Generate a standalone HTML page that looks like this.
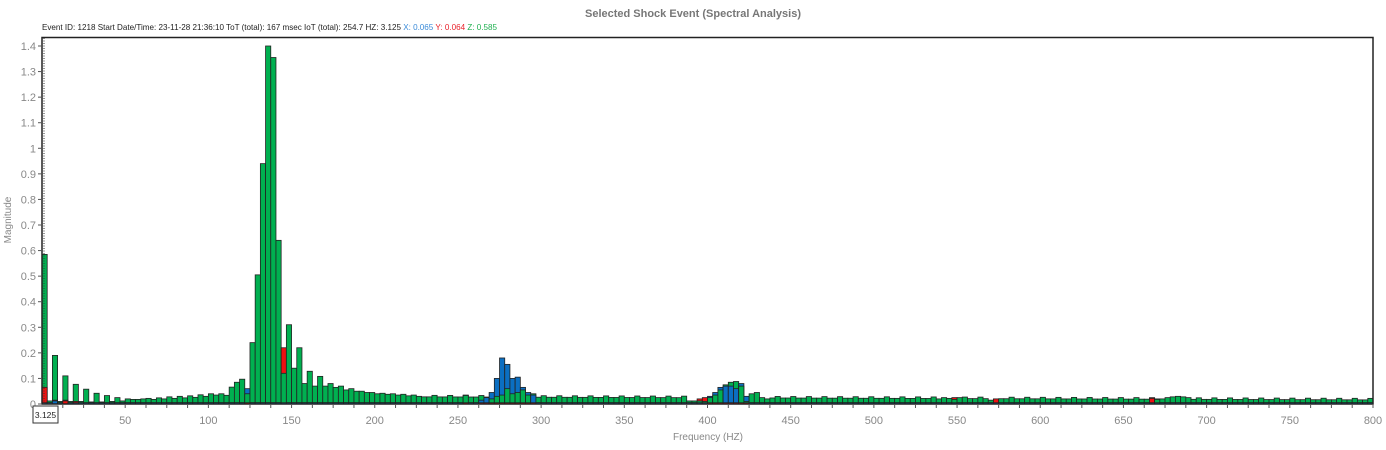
<!DOCTYPE html>
<html><head><meta charset="utf-8"><style>
html,body{margin:0;padding:0;background:#fff;width:1386px;height:450px;overflow:hidden}
svg{display:block}
text{font-family:"Liberation Sans",sans-serif}
</style></head><body>
<svg id="s" width="1386" height="450" xmlns="http://www.w3.org/2000/svg">
<text x="693" y="17" text-anchor="middle" font-size="11" font-weight="bold" fill="#777">Selected Shock Event (Spectral Analysis)</text>
<text x="42" y="30" font-size="8.4" fill="#222" textLength="455" lengthAdjust="spacingAndGlyphs">Event ID: 1218  Start Date/Time: 23-11-28 21:36:10  ToT (total): 167 msec  IoT (total): 254.7  HZ: 3.125  <tspan fill="#3a8ad8">X: 0.065</tspan>  <tspan fill="#e8202a">Y: 0.064</tspan>  <tspan fill="#20b050">Z: 0.585</tspan></text>
<g id="bands"></g>
<g id="bars"></g>
<rect x="42" y="37.5" width="1331" height="366.5" fill="none" stroke="#222" stroke-width="1.5"/>
<line x1="44" y1="38" x2="44" y2="404" stroke="#333" stroke-width="1" stroke-dasharray="1,1.5"/>
<g id="axes" font-size="11" fill="#888"></g>
<rect x="33" y="406" width="25" height="17" fill="#fff" stroke="#333" stroke-width="1"/>
<text x="45.5" y="418" text-anchor="middle" font-size="8.5" fill="#222">3.125</text>
<text x="708" y="440" text-anchor="middle" font-size="10" fill="#888">Frequency (HZ)</text>
<text transform="translate(11,220) rotate(-90)" text-anchor="middle" font-size="10" fill="#888">Magnitude</text>
</svg>
<script>
var NS="http://www.w3.org/2000/svg";
function el(p,t,a){var e=document.createElementNS(NS,t);for(var k in a)e.setAttribute(k,a[k]);p.appendChild(e);return e;}
var bands=document.getElementById('bands'),bars=document.getElementById('bars'),ax=document.getElementById('axes');
var top=38,bot=404,bh=(bot-top)/20;
for(var i=0;i<20;i+=2)el(bands,'rect',{x:42,y:top+i*bh,width:1331,height:bh,fill:'#e3e3e3'});
function Y(v){return 404-v*(358/1.4);}
for(var t=0;t<=14;t++){var yy=Y(t/10);el(ax,'line',{x1:38,y1:yy,x2:42,y2:yy,stroke:'#555'});
 var tx=el(ax,'text',{x:36,y:yy+4,'text-anchor':'end'});tx.textContent=(t==0?'0':(t/10).toString());}
var ppx=1331/800;
for(var f=12.5;f<=800;f+=12.5){var xx=42+f*ppx;el(ax,'line',{x1:xx,y1:404,x2:xx,y2:408,stroke:'#555'});}
for(var f=50;f<=800;f+=50){var xx=42+f*ppx;var tx=el(ax,'text',{x:xx,y:424,'text-anchor':'middle'});tx.textContent=f;}
var N=256,Z=[],R=[],B=[];
for(var i=0;i<N;i++){Z[i]=0.02;R[i]=0.005;B[i]=0.005;}
var z0=[0.585,0.012,0.19,0.01,0.11,0.01,0.077,0.01,0.058,0.008,0.042,0.008,0.033,0.01,0.025,0.012,0.02,0.018,0.018,0.02,0.022,0.018,0.024,0.02,0.028,0.022,0.03,0.024,0.032,0.026,0.036,0.03,0.04,0.035,0.04,0.034,0.057,0.058,0.062,0.066,0.085,0.097,0.04,0.24,0.505,0.94,1.40,1.355,0.64,0.12,0.31,0.14,0.22,0.08,0.128,0.07,0.108,0.07,0.08,0.065,0.07,0.055,0.06,0.05,0.05,0.045,0.045,0.04,0.042,0.038,0.04,0.035,0.038,0.032,0.035,0.03];
z0.splice(36,3);
for(var i=0;i<z0.length;i++)Z[i]=z0[i];
R[0]=0.065;R[2]=0.015;R[4]=0.012;R[6]=0.01;R[46]=0.22;B[39]=0.06;B[4]=0.015;B[2]=0.012;
for(var i=z0.length;i<N;i++){Z[i]=0.028-0.012*(i-z0.length)/(N-z0.length)+((i%3==0)?0.006:0);}
var bb={81:0.035,84:0.015,85:0.025,86:0.045,87:0.1,88:0.18,89:0.155,90:0.1,91:0.105,92:0.065,93:0.045,94:0.035};
for(var k in bb)B[k]=bb[k];
var zb={86:0.02,87:0.03,88:0.035,89:0.06,90:0.04,91:0.045,92:0.055,93:0.035,94:0.04};
for(var k in zb)Z[k]=zb[k];
var zp={124:0.012,125:0.012,126:0.012,127:0.01,128:0.025,129:0.035,130:0.055,131:0.075,132:0.085,133:0.088,134:0.07,135:0.01,136:0.04,137:0.045,138:0.025,139:0.02};
for(var k in zp)Z[k]=zp[k];
var bp={128:0.03,129:0.045,130:0.065,131:0.07,132:0.07,133:0.06,134:0.08,135:0.03};for(var k in bp)B[k]=bp[k];
R[126]=0.02;R[127]=0.025;
var lp={172:0.02,173:0.025,174:0.022,175:0.018,176:0.025,182:0.015,183:0.02,214:0.018,215:0.02,216:0.025,217:0.028,218:0.03,219:0.028,220:0.025};
for(var k in lp)Z[k]=lp[k];R[175]=0.025;R[183]=0.02;R[213]=0.022;R[214]=0.02;
var bw=1331/256;
for(var i=0;i<N;i++){
 var x=42+i*bw;
 var arr=[[Z[i],'#00b050'],[R[i],'#ee1111'],[B[i],'#0b6fc2']];
 arr.sort(function(a,b){return b[0]-a[0];});
 arr.forEach(function(a){var y=Y(a[0]);el(bars,'rect',{x:x.toFixed(2),y:y.toFixed(2),width:(bw).toFixed(2),height:(404-y).toFixed(2),fill:a[1],stroke:'#222','stroke-width':0.8});});
}
</script>
</body></html>
